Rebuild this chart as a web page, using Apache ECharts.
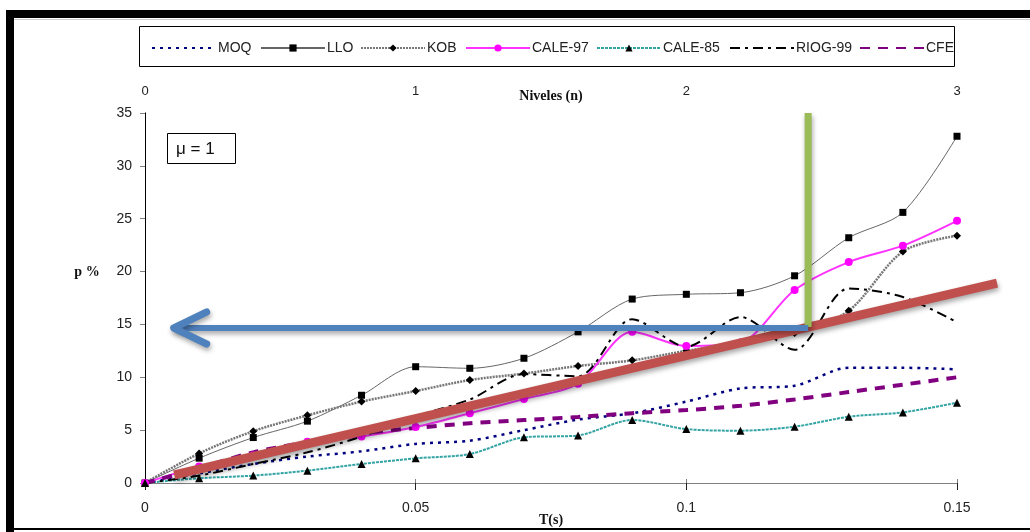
<!DOCTYPE html>
<html><head><meta charset="utf-8">
<script src="https://cdn.jsdelivr.net/npm/echarts@6/dist/echarts.min.js"></script>
<style>html,body{margin:0;padding:0;background:#fff}#c{width:1030px;height:532px}</style>
</head><body><div id="c"></div>
<script>
// ---- data ----
const T = [0, 0.01, 0.02, 0.03, 0.04, 0.05, 0.06, 0.07, 0.08, 0.09, 0.10, 0.11, 0.12, 0.13, 0.14, 0.15];
const MOQ    = [0, 0.9, 1.8, 2.5, 3.0, 3.7, 4.0, 5.0, 6.0, 6.6, 7.7, 8.95, 9.2, 10.9, 10.9, 10.75];
const LLO    = [0, 2.35, 4.3, 5.85, 8.3, 11.0, 10.85, 11.8, 14.3, 17.4, 17.85, 18.0, 19.6, 23.2, 25.6, 32.8];
const KOB    = [0, 2.8, 4.9, 6.4, 7.7, 8.7, 9.74, 10.35, 11.07, 11.6, 12.5, 13.3, 14.2, 16.3, 21.9, 23.4];
const CALE97 = [0, 1.55, 2.6, 3.9, 4.4, 5.3, 6.6, 7.95, 9.4, 14.3, 12.96, 13.3, 18.25, 20.9, 22.45, 24.8];
const CALE85 = [0, 0.45, 0.7, 1.17, 1.8, 2.33, 2.74, 4.32, 4.5, 5.96, 5.1, 4.95, 5.33, 6.27, 6.68, 7.6];
const RIOG99 = [0, 0.7, 1.8, 2.9, 4.4, 6.3, 7.9, 10.3, 10.1, 15.5, 12.9, 15.7, 12.6, 18.4, 17.6, 15.2];
const CFE    = [0, 1.4, 2.9, 3.85, 4.7, 5.2, 5.65, 5.95, 6.25, 6.6, 6.9, 7.3, 7.9, 8.6, 9.3, 10.0];
const SERIES_NAMES = ['MOQ', 'LLO', 'KOB', 'CALE-97', 'CALE-85', 'RIOG-99', 'CFE'];
const X_TICKS = [0, 0.05, 0.1, 0.15];
const TOP_TICKS = [0, 1, 2, 3];
// annotations (data coordinates)
const ARROW_Y = 14.66, ARROW_X0 = 0.0053, ARROW_X1 = 0.1225;
const GREEN_X = 0.1225, GREEN_Y0 = 35, GREEN_Y1 = 14.76;
const RED_P0 = [0.0054, 0.76], RED_P1 = [0.1574, 18.9];
const MU_LABEL = 'μ = 1';
const Y_TITLE = 'p %';

// layout (not data): left edge of each legend entry
const LEGEND_LEFT = [146, 255, 355, 460, 591, 724, 854];

const pair = arr => T.map((t, i) => [t, arr[i]]);
const SANS = 'Liberation Sans, Arial, sans-serif';
const SERIF = 'Liberation Serif, Times New Roman, serif';

function mk(name, data, lineStyle, symbol, symbolSize, itemColor) {
  const s = {
    name, type: 'line', data: pair(data), smooth: 0.3,
    symbol: symbol || 'circle', symbolSize: symbolSize || 1,
    showSymbol: !!symbol,
    lineStyle, itemStyle: { color: itemColor || lineStyle.color },
    emphasis: { disabled: true }, animation: false, z: 3
  };
  if (!symbol) s.itemStyle.opacity = 0;
  return s;
}

const legends = SERIES_NAMES.map((n, i) => ({
  left: LEGEND_LEFT[i], top: 36, itemWidth: 64, itemHeight: 9,
  data: [n], selectedMode: false,
  textStyle: { fontFamily: SANS, fontSize: 14, color: '#222', padding: [0, 0, 0, -3] }
}));

const chart = echarts.init(document.getElementById('c'));
chart.setOption({
  animation: false,
  backgroundColor: '#fff',
  grid: { left: 145, right: 73, top: 113, bottom: 49, outerBoundsMode: 'none', containLabel: false },
  legend: legends,
  xAxis: [{
    type: 'value', min: 0, max: 0.15, interval: 0.05, position: 'bottom',
    name: 'T(s)', nameLocation: 'middle', nameGap: 30, nameMoveOverlap: false,
    nameTextStyle: { fontFamily: SERIF, fontWeight: 'bold', fontSize: 14, color: '#111' },
    axisLine: { lineStyle: { color: '#222', width: 1 } },
    axisTick: { show: true, length: 7, lineStyle: { color: '#222' } },
    axisLabel: { fontFamily: SANS, fontSize: 14, color: '#222', margin: 18,
      formatter: v => X_TICKS.includes(+v.toFixed(2)) ? String(+v.toFixed(2)) : '' },
    splitLine: { show: false }
  }, {
    type: 'value', min: 0, max: 3, interval: 1, position: 'top',
    name: 'Niveles (n)', nameLocation: 'middle', nameGap: 10, nameMoveOverlap: false,
    nameTextStyle: { fontFamily: SERIF, fontWeight: 'bold', fontSize: 14, color: '#111' },
    axisLine: { lineStyle: { color: '#808080', width: 1 } },
    axisTick: { show: true, length: 4, lineStyle: { color: '#808080' } },
    axisLabel: { fontFamily: SANS, fontSize: 13, color: '#222', margin: 15,
      formatter: v => TOP_TICKS.includes(v) ? String(v) : '' },
    splitLine: { show: false }
  }],
  yAxis: [{
    type: 'value', min: 0, max: 35, interval: 5,
    axisLine: { show: true, lineStyle: { color: '#808080', width: 1 } },
    axisTick: { show: true, length: 5, lineStyle: { color: '#808080' } },
    axisLabel: { fontFamily: SANS, fontSize: 14, color: '#222', margin: 13 },
    splitLine: { show: false }
  }, {
    type: 'value', min: 0, max: 35, interval: 5, position: 'right',
    axisLine: { show: true, lineStyle: { color: '#000', width: 1 } },
    axisTick: { show: false }, axisLabel: { show: false }, splitLine: { show: false }
  }],
  series: [
    mk('MOQ', MOQ, { color: '#000080', width: 2.5, type: [3, 5] }),
    mk('LLO', LLO, { color: '#666', width: 1 }, 'rect', 7, '#000'),
    mk('KOB', KOB, { color: '#777', width: 2.5, type: [2, 1] }, 'diamond', 8, '#000'),
    mk('CALE-97', CALE97, { color: '#ff33ff', width: 2 }, 'circle', 8, '#ff00ff'),
    mk('CALE-85', CALE85, { color: '#33a3a3', width: 2, type: [3, 1] }, 'triangle', 8, '#000'),
    mk('RIOG-99', RIOG99, { color: '#000', width: 2, type: [10, 5, 3, 5] }),
    mk('CFE', CFE, { color: '#800080', width: 4, type: [10, 8] })
  ]
});

const px = (x, y) => chart.convertToPixel({ xAxisIndex: 0, yAxisIndex: 0 }, [x, y]);
const a0 = px(ARROW_X0, ARROW_Y), a1 = px(ARROW_X1, ARROW_Y);
const g0 = px(GREEN_X, GREEN_Y0), g1 = px(GREEN_X, GREEN_Y1);
const r0 = px(RED_P0[0], RED_P0[1]), r1 = px(RED_P1[0], RED_P1[1]);
const sh = { shadowBlur: 5, shadowColor: 'rgba(0,0,0,0.35)', shadowOffsetX: 1, shadowOffsetY: 3 };

chart.setOption({
  graphic: [
    // frame
    { type: 'rect', shape: { x: 6, y: 10, width: 1024, height: 8 }, style: { fill: '#000' }, z: 100 },
    { type: 'rect', shape: { x: 6, y: 19, width: 1024, height: 1 }, style: { fill: '#ccc' }, z: 100 },
    { type: 'rect', shape: { x: 6, y: 10, width: 8, height: 522 }, style: { fill: '#000' }, z: 100 },
    { type: 'rect', shape: { x: 6, y: 528, width: 1024, height: 2 }, style: { fill: '#000' }, z: 100 },
    // legend box
    { type: 'rect', shape: { x: 139.5, y: 26.5, width: 815, height: 40 }, style: { fill: 'none', stroke: '#000', lineWidth: 1 }, z: 1 },
    // y axis title
    { type: 'text', x: 87, y: 272, style: { text: Y_TITLE, font: 'bold 14px ' + SERIF, fill: '#111', align: 'center', verticalAlign: 'middle' }, z: 10 },
    // mu box
    { type: 'rect', shape: { x: 167.5, y: 133.5, width: 68, height: 30 }, style: { fill: '#fff', stroke: '#000', lineWidth: 1 }, z: 10 },
    { type: 'text', x: 176, y: 149, style: { text: MU_LABEL, font: '17px ' + SANS, fill: '#111', verticalAlign: 'middle' }, z: 11 },
    // red line
    { type: 'line', shape: { x1: r0[0], y1: r0[1], x2: r1[0], y2: r1[1] }, style: Object.assign({ stroke: '#c0504d', lineWidth: 9 }, sh), z: 20 },
    // green line
    { type: 'line', shape: { x1: g0[0], y1: g0[1], x2: g1[0], y2: g1[1] }, style: Object.assign({ stroke: '#9bbb59', lineWidth: 7 }, sh), z: 21 },
    // blue arrow
    { type: 'line', shape: { x1: a0[0] + 2, y1: a0[1], x2: a1[0], y2: a1[1] }, style: Object.assign({ stroke: '#4f81bd', lineWidth: 6 }, sh), z: 22 },
    { type: 'polyline', shape: { points: [[a0[0] + 33, a0[1] - 16], [a0[0], a0[1]], [a0[0] + 33, a0[1] + 16]] },
      style: Object.assign({ stroke: '#4f81bd', lineWidth: 7, fill: 'none', lineCap: 'round', lineJoin: 'round' }, sh), z: 22 }
  ]
});
</script></body></html>
